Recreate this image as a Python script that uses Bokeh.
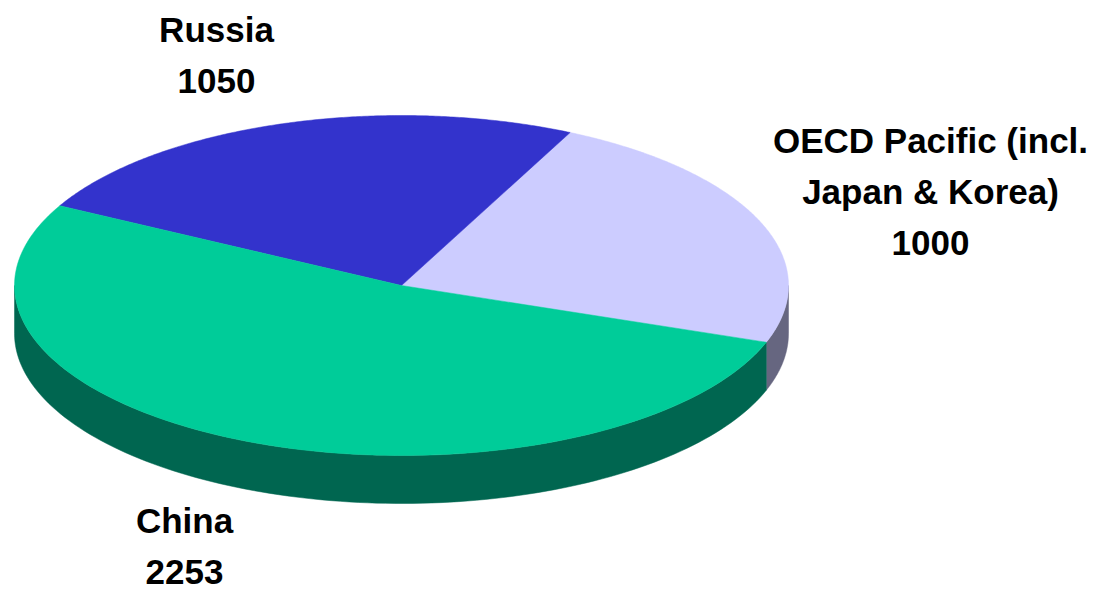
import numpy as np
from bokeh.plotting import figure
from bokeh.models import Range1d, ColumnDataSource
from bokeh.core.properties import value
from bokeh.embed import file_html
from bokeh.resources import INLINE

# ---- data ----
categories = ["OECD Pacific (incl.\nJapan & Korea)", "Russia", "China"]
values = [1000, 1050, 2253]
top_colors = ["#CCCCFF", "#3333CC", "#00CC99"]
side_colors = ["#666680", "#1A1A66", "#006650"]
label_x = [930, 216, 184]
label_y = [140, 29, 520]   # anchor of first line
line_gap = 51

# ---- geometry (pixel space) ----
W, H = 1096, 592
cx, cy, rx, ry, depth = 401, 285, 387, 170, 48
start_deg = -19.5

p = figure(width=W, height=H, x_range=Range1d(0, W), y_range=Range1d(H, 0),
           output_backend="svg", toolbar_location=None, min_border=0)
p.axis.visible = False
p.grid.visible = False
p.outline_line_color = None
p.background_fill_color = "white"

total = float(sum(values))
angles = [start_deg]
for v in values:
    angles.append(angles[-1] + 360.0 * v / total)

def pt(t_deg):
    t = np.radians(t_deg)
    return cx + rx * np.cos(t), cy - ry * np.sin(t)

# side walls (front half: 180..360 deg, in math orientation)
sx, sy, sc = [], [], []
for i in range(len(values)):
    a0, a1 = angles[i], angles[i + 1]
    for off in (-360, 0, 360):
        lo = max(a0 + off, 180)
        hi = min(a1 + off, 360)
        if hi > lo:
            ts = np.linspace(lo, hi, 120)
            xs, ys = pt(ts)
            px = list(xs) + list(xs[::-1])
            py = list(ys) + list((ys + depth)[::-1])
            sx.append(px); sy.append(py); sc.append(side_colors[i])
p.patches(sx, sy, fill_color=sc, line_color=sc, line_width=0.5)

# top wedges
tx, ty, tc = [], [], []
for i in range(len(values)):
    ts = np.linspace(angles[i], angles[i + 1], 200)
    xs, ys = pt(ts)
    tx.append([cx] + list(xs)); ty.append([cy] + list(ys)); tc.append(top_colors[i])
p.patches(tx, ty, fill_color=tc, line_color=tc, line_width=0.5)

# labels: one text per line
lx, ly, lt = [], [], []
for c, v, x0, y0 in zip(categories, values, label_x, label_y):
    lines = c.split("\n") + [str(v)]
    for k, ln in enumerate(lines):
        lx.append(x0); ly.append(y0 + k * line_gap); lt.append(ln)
src = ColumnDataSource(dict(x=lx, y=ly, t=lt))
p.text("x", "y", text="t", source=src, text_align="center", text_baseline="alphabetic",
       text_font=value("Liberation Sans"), text_font_style="bold",
       text_font_size="35px", text_color="black")

open("out.html", "w").write(file_html(p, INLINE))
